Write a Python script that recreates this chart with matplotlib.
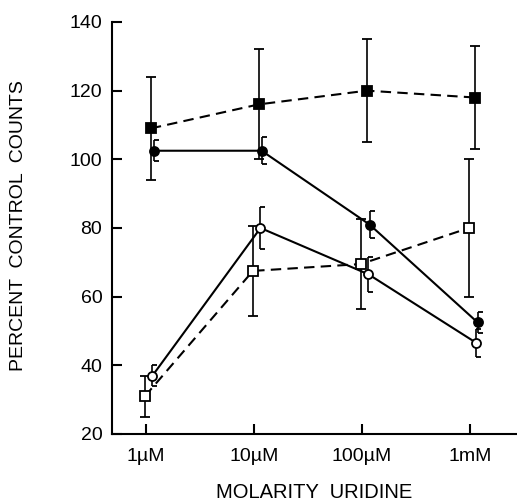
import matplotlib
matplotlib.use("Agg")
import matplotlib.pyplot as plt
import numpy as np
from matplotlib.path import Path

plt.rcParams['font.family'] = ['Liberation Sans', 'DejaVu Sans']

categories = ["1\u00b5M", "10\u00b5M", "100\u00b5M", "1mM"]
filled_sq = [109, 116, 120, 118]
filled_sq_err = [15, 16, 15, 15]
filled_circ = [102.5, 102.5, 81, 52.5]
filled_circ_err = [3, 4, 4, 3]
open_circ = [37, 80, 66.5, 46.5]
open_circ_err = [3, 6, 5, 4]
open_sq = [31, 67.5, 69.5, 80]
open_sq_err = [6, 13, 13, 20]

x = np.arange(len(categories))

fig = plt.figure(figsize=(5.17, 5.04), dpi=100)
ax = fig.add_axes([0.2166, 0.1389, 0.7834, 0.8175])

half_cap = Path([(0, 0), (1, 0)], [Path.MOVETO, Path.LINETO])

def series(vals, err, offset, marker, mfc, ls, ms, halfcap=False):
    xs = x + offset
    line, caps, bars = ax.errorbar(xs, vals, yerr=err, color='black', lw=1.5,
                                   ls=ls, marker=marker, ms=ms, mfc=mfc, mec='black',
                                   mew=1.3, capsize=3.5, elinewidth=1.2, capthick=1.2,
                                   zorder=3)
    if ls == '--':
        line.set_dashes((5, 3))
    if halfcap:
        for c in caps:
            c.set_marker(half_cap)
            c.set_markersize(7)
    return line

series(filled_sq, filled_sq_err, 0.045, 's', 'black', '--', 6.5)
series(filled_circ, filled_circ_err, 0.07, 'o', 'black', '-', 6.5, halfcap=True)
series(open_sq, open_sq_err, -0.01, 's', 'white', '--', 6.5)
series(open_circ, open_circ_err, 0.06, 'o', 'white', '-', 6.5, halfcap=True)

ax.set_xlim(-0.315, 3.435)
ax.set_ylim(20, 140)
ax.set_yticks(np.arange(20, 141, 20))
ax.set_xticks(x)
ax.set_xticklabels(categories)

for s in ['top', 'right']:
    ax.spines[s].set_visible(False)
for s in ['left', 'bottom']:
    ax.spines[s].set_linewidth(1.5)

ax.tick_params(axis='both', direction='in', length=7, width=1.5, labelsize=14)
ax.tick_params(axis='y', pad=7)
ax.tick_params(axis='x', pad=10)

ax.set_ylabel("PERCENT  CONTROL  COUNTS", fontsize=14)
ax.yaxis.set_label_coords(-0.21, 0.505)
ax.set_xlabel("MOLARITY  URIDINE", fontsize=14.5)
ax.xaxis.set_label_coords(0.5, -0.118)

fig.savefig("out.png", dpi=100)
